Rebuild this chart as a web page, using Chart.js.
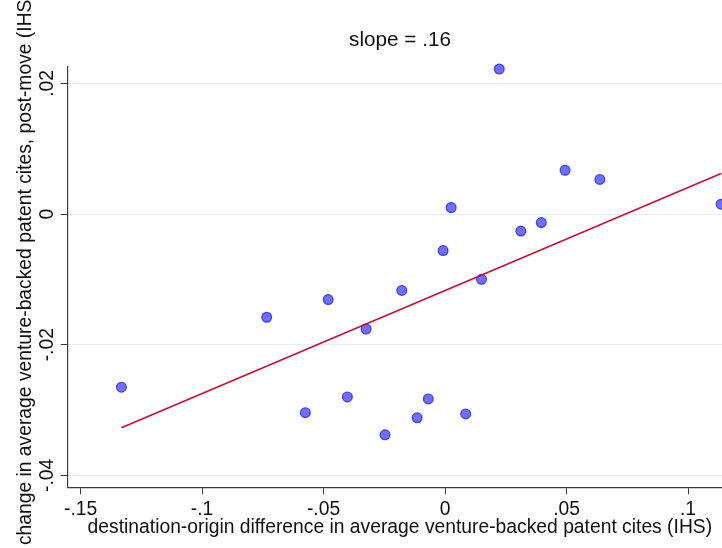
<!DOCTYPE html>
<html>
<head>
<meta charset="utf-8">
<script src="https://cdn.jsdelivr.net/npm/chart.js@4.4.1/dist/chart.umd.min.js"></script>
<style>
  html, body { margin: 0; padding: 0; background: #fff; overflow: hidden; }
  #wrap { width: 722px; height: 548px; overflow: hidden; }
</style>
</head>
<body>
<div id="wrap"><canvas id="binChart" width="800" height="548"></canvas></div>
<script>
// binned means (x = destination-origin difference, y = change post-move)
const binX = [-0.1332, -0.0734, -0.0575, -0.0481, -0.0402, -0.0325, -0.0247, -0.0178, -0.0115, -0.0069,
              -0.0008, 0.0025, 0.0085, 0.0150, 0.0223, 0.0312, 0.0396, 0.0494, 0.0637, 0.1136];
const binY = [-0.0265, -0.0158, -0.0304, -0.0131, -0.0280, -0.0176, -0.0338, -0.0117, -0.0312, -0.0283,
              -0.0056, 0.0010, -0.0306, -0.0100, 0.0222, -0.0026, -0.0013, 0.0067, 0.0053, 0.0015];

// fitted line end points
const fitX = [-0.1332, 0.1136];
const fitY = [-0.0327, 0.0062];

const xTicks = [-0.15, -0.1, -0.05, 0, 0.05, 0.1];
const xTickLabels = ["-.15", "-.1", "-.05", "0", ".05", ".1"];
const yTicks = [-0.04, -0.02, 0, 0.02];
const yTickLabels = ["-.04", "-.02", "0", ".02"];

const titleText = "slope = .16";
const xTitle = "destination-origin difference in average venture-backed patent cites (IHS)";
// leading spaces nudge the (centred) rotated title a few px upwards, like the original
const yTitle = "   change in average venture-backed patent cites, post-move (IHS)";

const fontFamily = "'Liberation Sans', Arial, Helvetica, sans-serif";
const axisColor = "#3c3c3c";

const ctx = document.getElementById("binChart").getContext("2d");

new Chart(ctx, {
    type: "scatter",
    data: {
        datasets: [
            {
                data: fitX.map((x, i) => ({ x: x, y: fitY[i] })),
                showLine: true,
                borderColor: "#c8102e",
                borderWidth: 1.6,
                pointRadius: 0,
                clip: false,
                order: 0
            },
            {
                data: binX.map((x, i) => ({ x: x, y: binY[i] })),
                backgroundColor: "#7070ff",
                borderColor: "#4343f2",
                borderWidth: 1.4,
                pointRadius: 4.8,
                clip: false,
                order: 1
            }
        ]
    },
    options: {
        responsive: false,
        animation: false,
        layout: { padding: 0 },
        plugins: {
            legend: { display: false },
            tooltip: { enabled: false },
            title: {
                display: true,
                text: titleText,
                color: "#111",
                font: { family: fontFamily, size: 20.7, weight: "normal" },
                padding: { top: 28.1, bottom: 14.1 }
            }
        },
        scales: {
            x: {
                type: "linear",
                min: -0.1553,
                max: 0.1181,
                afterBuildTicks: s => { s.ticks = xTicks.map(v => ({ value: v })); },
                afterFit: s => { s.height = 60.7; },
                ticks: {
                    callback: (v, i) => xTickLabels[i],
                    color: "#111",
                    font: { family: fontFamily, size: 19.3 },
                    padding: 3.8,
                    maxRotation: 0,
                    minRotation: 0
                },
                grid: { drawOnChartArea: false, tickLength: 7, tickColor: axisColor, tickWidth: 1 },
                border: { color: axisColor, width: 1.2 },
                title: {
                    display: true,
                    text: xTitle,
                    color: "#111",
                    font: { family: fontFamily, size: 19.3 },
                    padding: { top: 0, bottom: 9.1 }
                }
            },
            y: {
                type: "linear",
                min: -0.04183,
                max: 0.0225,
                afterBuildTicks: s => { s.ticks = yTicks.map(v => ({ value: v })); },
                afterFit: s => { s.width = 67.7; },
                ticks: {
                    callback: (v, i) => yTickLabels[i],
                    color: "#111",
                    font: { family: fontFamily, size: 19.3 },
                    minRotation: 90,
                    maxRotation: 90,
                    crossAlign: "center",
                    padding: -3.5
                },
                grid: { color: "#e6eef0", lineWidth: 1, tickLength: 7, tickColor: axisColor, tickWidth: 1 },
                border: { color: axisColor, width: 1.2 },
                title: {
                    display: true,
                    text: yTitle,
                    color: "#111",
                    font: { family: fontFamily, size: 19.3 },
                    padding: { top: 14, bottom: 0 }
                }
            },
            // empty right margin so the title centres over the full graph width
            yRight: {
                type: "linear",
                position: "right",
                afterFit: s => { s.width = 68; },
                ticks: { display: false },
                grid: { display: false },
                border: { display: false }
            }
        }
    }
});
</script>
</body>
</html>
